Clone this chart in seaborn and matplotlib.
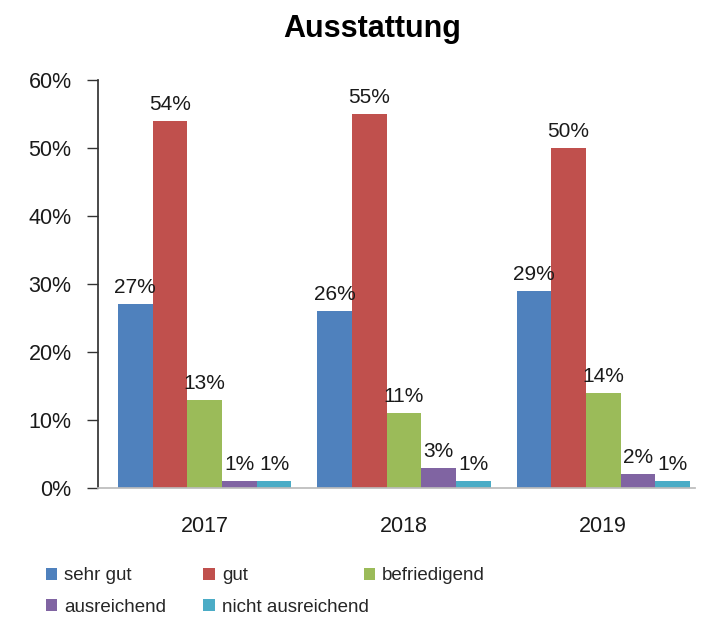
import matplotlib
matplotlib.use("Agg")
import matplotlib.pyplot as plt
import seaborn as sns
import pandas as pd
from matplotlib.patches import Patch

years = ["2017", "2018", "2019"]
categories = ["sehr gut", "gut", "befriedigend", "ausreichend", "nicht ausreichend"]
sehr_gut = [27, 26, 29]
gut = [54, 55, 50]
befriedigend = [13, 11, 14]
ausreichend = [1, 3, 2]
nicht_ausreichend = [1, 1, 1]
colors = ["#4F81BD", "#C0504D", "#9BBB59", "#8064A2", "#4BACC6"]

series = [sehr_gut, gut, befriedigend, ausreichend, nicht_ausreichend]
rows = []
for cat, vals in zip(categories, series):
    for y, v in zip(years, vals):
        rows.append({"Jahr": y, "Bewertung": cat, "Wert": v})
df = pd.DataFrame(rows)

sns.set_theme(style="white")
plt.rcParams["font.family"] = ["Liberation Sans", "DejaVu Sans"]

fig = plt.figure(figsize=(7.04, 6.22), dpi=100)
ax = fig.add_axes([98/704, (622-488)/622, 597/704, (488-80)/622])

sns.barplot(data=df, x="Jahr", y="Wert", hue="Bewertung", hue_order=categories,
            order=years, palette=colors, width=0.87, saturation=1, ax=ax,
            legend=False, edgecolor="none")

for cont in ax.containers:
    ax.bar_label(cont, labels=[f"{int(v)}%" for v in cont.datavalues],
                 padding=5, fontsize=15, color="#1a1a1a")

ax.set_ylim(0, 60)
ax.set_xlim(-0.535, 2.46)
ax.set_yticks(range(0, 61, 10))
ax.set_yticklabels([f"{t}%" for t in range(0, 61, 10)], fontsize=15.5, color="#1a1a1a")
ax.tick_params(axis="y", direction="out", length=8, width=1, color="#333333", left=True, pad=11)
ax.tick_params(axis="x", length=0, pad=20, labelsize=15.5, labelcolor="#1a1a1a")
ax.set_xlabel("")
ax.set_ylabel("")
for s in ["top", "right"]:
    ax.spines[s].set_visible(False)
ax.spines["left"].set_color("#333333")
ax.spines["bottom"].set_color("#bbbbbb")
ax.grid(False)

fig.text(0.528, 0.953, "Ausstattung", ha="center", va="center",
         fontsize=22, fontweight="bold", color="#000000")

# legend in three columns
legend_cols = [[0, 3], [1, 4], [2]]
xs = [38/704, 196/704, 356/704]
for col, x in zip(legend_cols, xs):
    handles = [Patch(facecolor=colors[i], edgecolor="none", label=categories[i]) for i in col]
    fig.legend(handles=handles, loc="upper left", bbox_to_anchor=(x, 62/622),
               frameon=False, fontsize=13.5, handlelength=0.6, handleheight=0.6,
               handletextpad=0.4, labelspacing=0.75, borderaxespad=0)

fig.savefig("out.png", dpi=100)
